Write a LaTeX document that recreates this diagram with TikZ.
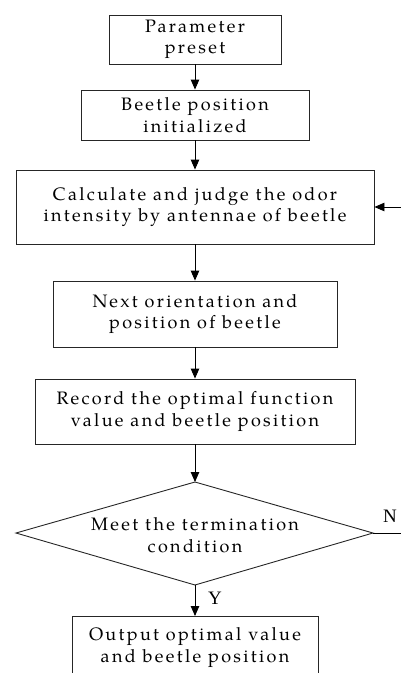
\documentclass[tikz,border=0pt]{standalone}
\usepackage{fontspec}
\setmainfont{TeX Gyre Pagella}[LetterSpace=13]
\newfontfamily\tagfont{Liberation Serif}
\usetikzlibrary{arrows.meta}

\begin{document}
\begin{tikzpicture}[x=1pt,y=-1pt,
  txt/.style={align=center, inner sep=0pt, font=\fontsize{18}{21.5}\selectfont},
  stepbox/.style={txt, draw=black!85, line width=0.9pt},
  flow/.style={draw=black, line width=0.9pt, -{Triangle[length=10pt,width=8.5pt]}},
  plain/.style={draw=black, line width=0.9pt},
  tag/.style={font=\tagfont\fontsize{19}{20}\selectfont, inner sep=0pt}]
\clip (0,0) rectangle (401,673);

% process steps
\node[stepbox, minimum width=172, minimum height=49] (p) at (195,39.5) {Parameter\\preset};
\node[stepbox, minimum width=228, minimum height=50] (b) at (195,115) {Beetle position\\initialized};
\node[stepbox, minimum width=358, minimum height=74] (c) at (195,207) {Calculate and judge the odor\\intensity\ by antennae of\ beetle};
\node[stepbox, minimum width=284, minimum height=66] (n) at (195,314) {Next orientation and\\position of\ beetle};
\node[stepbox, minimum width=320, minimum height=65] (r) at (195,411.5) {Record the optimal function\\value and beetle position};

% decision
\coordinate (dt) at (195,482);
\coordinate (dr) at (373,533);
\coordinate (db) at (195,585);
\coordinate (dl) at (16,533);
\draw[plain, draw=black!85] (dt) -- (dr) -- (db) -- (dl) -- cycle;
\node[txt] (m) at (195,535) {Meet the termination\\condition};

% result
\node[stepbox, minimum width=246, minimum height=62, anchor=north] (o) at (195,616) {Output optimal value\\and beetle position};

% connectors
\draw[flow] (p) -- (b);
\draw[flow] (b) -- (c);
\draw[flow] (c) -- (n);
\draw[flow] (n) -- (r);
\draw[flow] (r) -- (dt);
\draw[flow] (db) -- (o);
\coordinate (loopin) at (401,207);
\draw[flow] (loopin) -- (c.east);
\coordinate (nout) at (401,533);
\draw[plain] (dr) -- (nout);

% branch labels
\node[tag] (nlab) at (390,516) {N};
\node[tag] (ylab) at (215,598) {Y};
\end{tikzpicture}
\end{document}
